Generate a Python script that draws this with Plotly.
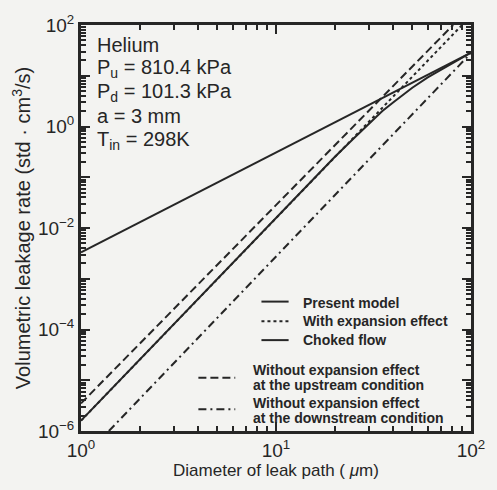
import plotly.graph_objects as go

# ---- data (x: diameter in um, y: std cm^3/s) ----
present_x = [1, 3, 10, 20, 25, 30, 35, 40, 50, 60, 70, 80, 90, 100]
present_y = [1.6e-6, 1.3e-4, 1.6e-2, 0.25, 0.58, 1.15, 2.0, 3.0, 5.8, 9.3, 13.0, 17.6, 22.7, 28.5]

expansion_x = [1, 90]
expansion_y = [1.6e-6, 100]

choked_x = [1, 100]
choked_y = [3.3e-3, 28.5]

upstream_x = [1, 81]
upstream_y = [3.5e-6, 100]

downstream_x = [1.39, 100]
downstream_y = [1e-6, 28]

x_tickvals = [1, 10, 100]
x_ticktext = ["10<sup>0</sup>", "10<sup>1</sup>", "10<sup>2</sup>"]
y_tickvals = [1e-6, 1e-5, 1e-4, 1e-3, 1e-2, 1e-1, 1, 10, 100]
y_ticktext = ["10<sup>−6</sup>", "", "10<sup>−4</sup>", "", "10<sup>−2</sup>", "",
              "10<sup>0</sup>", "", "10<sup>2</sup>"]

info_lines = ["Helium", "P<sub>u</sub> = 810.4 kPa", "P<sub>d</sub> = 101.3 kPa",
              "a = 3 mm", "T<sub>in</sub> = 298K"]

legend_top = ["Present model", "With expansion effect", "Choked flow"]
legend_bottom = ["Without expansion effect", "at the upstream condition",
                 "Without expansion effect", "at the downstream condition"]

# ---- styling ----
INK = "#262626"
BG = "#f3f3f1"
W, H = 497, 490
L, R, T, B = 81, 483, 20, 431
FONT = "Liberation Sans, Arial"


def px(xp):
    return (xp - L) / (R - L)


def py(yp):
    return (B - yp) / (B - T)


fig = go.Figure()
fig.add_trace(go.Scatter(x=present_x, y=present_y, mode="lines",
                         line=dict(color=INK, width=2)))
fig.add_trace(go.Scatter(x=expansion_x, y=expansion_y, mode="lines",
                         line=dict(color=INK, width=2, dash="3px,3px")))
fig.add_trace(go.Scatter(x=choked_x, y=choked_y, mode="lines",
                         line=dict(color=INK, width=2)))
fig.add_trace(go.Scatter(x=upstream_x, y=upstream_y, mode="lines",
                         line=dict(color=INK, width=2, dash="8px,4px")))
fig.add_trace(go.Scatter(x=downstream_x, y=downstream_y, mode="lines",
                         line=dict(color=INK, width=2, dash="8px,4px,2px,4px")))

minor_x = [m * d for d in (1, 10) for m in range(2, 10)]
minor_y = [m * 10.0 ** e for e in range(-6, 2) for m in range(2, 10)]

axis_common = dict(type="log", showgrid=False, zeroline=False, showline=True,
                   linecolor=INK, linewidth=3, mirror="ticks", ticks="inside",
                   ticklen=9, tickwidth=2, tickcolor=INK,
                   tickfont=dict(family=FONT, size=19, color=INK))

fig.update_xaxes(**axis_common, range=[0, 2], tickmode="array",
                 tickvals=x_tickvals, ticktext=x_ticktext,
                 minor=dict(tickmode="array", tickvals=minor_x, ticks="inside",
                            ticklen=5, tickwidth=1.5, tickcolor=INK),
                 title=dict(text="Diameter of leak path ( <i>μ</i>m)",
                            font=dict(family=FONT, size=17, color=INK),
                            standoff=4))
fig.update_yaxes(**axis_common, range=[-6, 2], tickmode="array",
                 tickvals=y_tickvals, ticktext=y_ticktext,
                 minor=dict(tickmode="array", tickvals=minor_y, ticks="inside",
                            ticklen=5, tickwidth=1.5, tickcolor=INK),
                 title=dict(text="Volumetric leakage rate (std · cm<sup>3</sup>/s)",
                            font=dict(family=FONT, size=20, color=INK),
                            standoff=2))

annotations = []
info_y = [40, 64, 88, 112, 137]
for txt, yy in zip(info_lines, info_y):
    annotations.append(dict(xref="paper", yref="paper", x=px(95), y=py(yy),
                            xanchor="left", yanchor="middle", showarrow=False,
                            text=txt, font=dict(family=FONT, size=20, color=INK)))

leg_font = dict(family=FONT, size=14, color=INK, weight="bold")
top_y = [301, 320, 339]
for txt, yy in zip(legend_top, top_y):
    annotations.append(dict(xref="paper", yref="paper", x=px(308), y=py(yy),
                            xanchor="left", yanchor="middle", showarrow=False,
                            text=txt, font=leg_font))
bot_y = [369, 384, 403, 418]
for txt, yy in zip(legend_bottom, bot_y):
    annotations.append(dict(xref="paper", yref="paper", x=px(256), y=py(yy),
                            xanchor="left", yanchor="middle", showarrow=False,
                            text=txt, align="left", font=leg_font))

shapes = []
samples = [(267, 295, 300, "solid"), (267, 295, 320, "3px,3px"), (267, 295, 339, "solid"),
           (202, 240, 377, "8px,4px"), (202, 240, 409, "8px,4px,2px,4px")]
for x0, x1, yy, dsh in samples:
    shapes.append(dict(type="line", xref="paper", yref="paper",
                       x0=px(x0), x1=px(x1), y0=py(yy), y1=py(yy),
                       line=dict(color=INK, width=2, dash=dsh)))

fig.update_layout(width=W, height=H, showlegend=False,
                  margin=dict(l=L, r=W - R, t=T, b=H - B),
                  paper_bgcolor=BG, plot_bgcolor=BG,
                  annotations=annotations, shapes=shapes)

fig.write_html("out.html")
